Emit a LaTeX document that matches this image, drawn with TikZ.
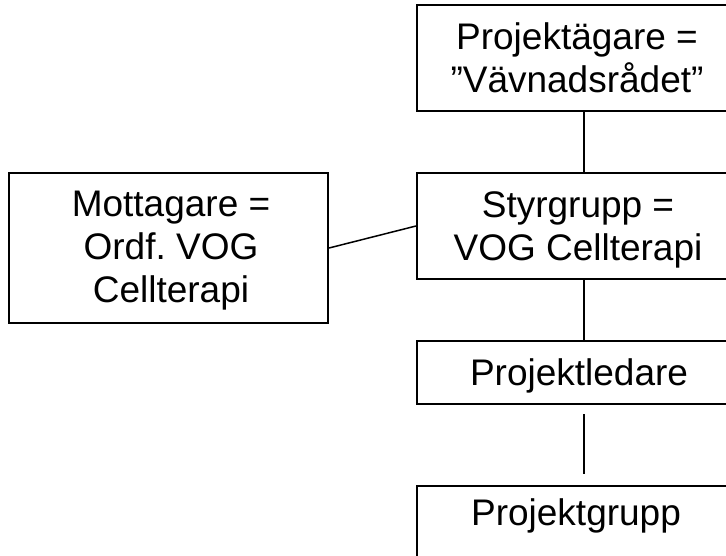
\documentclass[tikz,border=0pt]{standalone}
\usepackage{fontspec}
\setmainfont{Liberation Sans}
\frenchspacing
\tikzset{
  box/.style={draw=black, line width=2pt, inner sep=0pt, fill=none},
  lbl/.style={anchor=base, align=center, inner sep=0pt, font=\fontsize{37}{42.6}\selectfont},
  conn/.style={draw=black, line width=1.5pt}
}
\begin{document}
\begin{tikzpicture}[x=1pt, y=-1pt]
\useasboundingbox (0,0) rectangle (726,555);
\clip (0,0) rectangle (726,555);
\fill[white] (0,0) rectangle (726,555);
% boxes
\node[box, minimum width=334pt, minimum height=106pt] (A) at (584,58) {};
\node[box, minimum width=334pt, minimum height=106pt] (B) at (584,226) {};
\node[box, minimum width=334pt, minimum height=63pt] (C) at (584,372.5) {};
\node[box, minimum width=334pt, minimum height=80pt] (D) at (584,526) {};
\node[box, minimum width=319pt, minimum height=150pt] (M) at (168.5,248) {};
% texts (base anchor = baseline of the last line)
\node[lbl] (At) at (577,92) {Projektägare =\\”Vävnadsrådet”};
\node[lbl] (Bt) at (578,260) {Styrgrupp =\\VOG Cellterapi};
\node[lbl] (Mt) at (171,302) {Mottagare =\\Ordf.\ VOG\\Cellterapi};
\node[lbl] (Ct) at (579,385) {Projektledare};
\node[lbl] (Dt) at (576,525.5) {Projektgrupp};
% connectors
\draw[conn] (A.south) -- (B.north);
\draw[conn] (M.east) -- (B.west);
\draw[conn] (B.south) -- (C.north);
\draw[conn] ([yshift=-9pt]C.south) -- ([yshift=11pt]D.north);
\end{tikzpicture}
\end{document}
